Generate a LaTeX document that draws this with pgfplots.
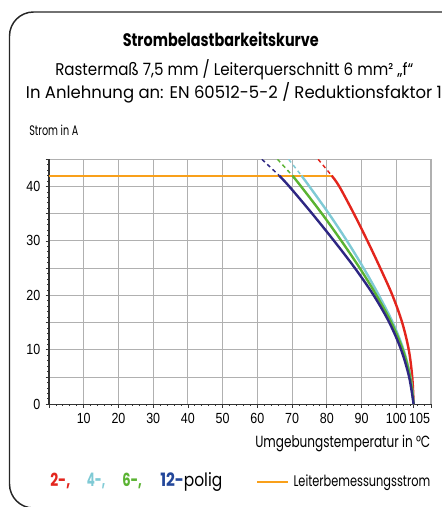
\documentclass[border=0pt]{standalone}
\usepackage{pgfplots}
\pgfplotsset{compat=1.18}
\usepackage{graphicx}
\usepackage{fontspec}
\setmainfont{Poppins}
\newfontfamily\arialf{Liberation Sans}
\newlength\pxu \setlength\pxu{0.75pt}
\definecolor{cRed}{HTML}{E3251D}
\definecolor{cCyan}{HTML}{7FCAD5}
\definecolor{cGreen}{HTML}{5AB332}
\definecolor{cNavy}{HTML}{2E2783}
\definecolor{cNavyL}{HTML}{23479A}
\definecolor{cOrange}{HTML}{F9A01A}
\definecolor{cGrid}{HTML}{B0B0B0}
\newcommand{\tl}[1]{\scalebox{0.85}[1]{#1}}
\newcommand{\rb}[3]{\resizebox{#1\pxu}{#2\pxu}{#3}}
\begin{document}
\begin{tikzpicture}[x=0.75pt,y=-0.75pt]
\useasboundingbox (0,0) rectangle (442,507);
\draw[line width=1.1pt, color=black!85, rounded corners=18pt] (9.5,12) rectangle (470,508);
% titles
\node[anchor=base west, inner sep=0] at (122.5,46.7) {\rb{196}{14.5}{\bfseries Strombelastbarkeitskurve}};
\node[anchor=base west, inner sep=0] at (55,75) {\rb{358}{16}{Rastermaß 7,5 mm / Leiterquerschnitt 6 mm² „f“}};
\node[anchor=base west, inner sep=0] at (25.7,98.7) {\rb{416}{16}{In Anlehnung an: EN 60512-5-2 / Reduktionsfaktor 1}};
\node[anchor=base west, inner sep=0] at (29,135) {\rb{49}{10.5}{Strom in A}};
\node[anchor=base west, inner sep=0] at (255,447.3) {\rb{175}{12.3}{Umgebungstemperatur in °C}};
% legend
\node[anchor=base west, inner sep=0] at (50,486.7) {\rb{20}{13.4}{\bfseries\color{cRed}2-,}};
\node[anchor=base west, inner sep=0] at (86.7,486.7) {\rb{18.3}{13.4}{\bfseries\color{cCyan}4-,}};
\node[anchor=base west, inner sep=0] at (122,486.7) {\rb{19.7}{13.4}{\bfseries\color{cGreen}6-,}};
\node[anchor=base west, inner sep=0] at (160,486.7) {\rb{62}{14}{{\bfseries\color{cNavyL}12-}polig}};
\draw[cOrange, line width=1.8pt] (257,481.7) -- (288,481.7);
\node[anchor=base west, inner sep=0] at (293.3,486.7) {\rb{136.7}{11.7}{Leiterbemessungsstrom}};
\begin{axis}[
  at={(36.75pt,-303.2pt)}, anchor=south west,
  scale only axis, width=286.5pt, height=183.75pt,
  xmin=0, xmax=110, ymin=0, ymax=45,
  axis x line*=bottom, axis y line*=left,
  axis line style={black!80, line width=0.8pt, -},
  xtick={0,10,...,110},
  xticklabels={,\tl{10},\tl{20},\tl{30},\tl{40},\tl{50},\tl{60},\tl{70},\tl{80},\tl{90},\tl{100},},
  extra x ticks={105},
  extra x tick labels={\tl{105}},
  extra x tick style={grid=none, xticklabel style={xshift=4.5pt}},
  ytick={0,5,...,45},
  yticklabels={\tl{0},,\tl{10},,\tl{20},,\tl{30},,\tl{40},},
  minor x tick num=4, minor y tick num=4,
  tick align=outside,
  major tick length=2.5pt, minor tick length=1.3pt,
  tick style={black!80, line width=0.6pt},
  minor tick style={black!80, line width=0.6pt},
  grid=major,
  major grid style={cGrid, line width=0.8pt},
  ticklabel style={font=\arialf\fontsize{11}{12}\selectfont},
  xticklabel style={yshift=-1pt},
  yticklabel style={xshift=-0.5pt},
]
\addplot[cOrange, line width=1.5pt] coordinates {(0,42) (81.4,42)};
% dashed extensions
\addplot[cRed, line width=1.1pt, dash pattern=on 3pt off 2.5pt] coordinates {(77.5,45) (81.4,42)};
\addplot[cCyan, line width=1.1pt, dash pattern=on 3pt off 2.5pt] coordinates {(69.0,45) (72.7,42)};
\addplot[cGreen, line width=1.1pt, dash pattern=on 3pt off 2.5pt] coordinates {(65.8,45) (70.1,42)};
\addplot[cNavy, line width=1.1pt, dash pattern=on 3pt off 2.5pt] coordinates {(61.3,45) (66.3,42)};
% solid curves
\addplot[cRed, line width=1.8pt, smooth, tension=0.55] coordinates {(81.4,42) (83.6,40) (87.8,35) (91.7,30) (95.4,25) (98.9,20) (101.7,15) (103.6,10) (104.6,5) (105,0)};
\addplot[cCyan, line width=1.8pt, smooth, tension=0.55] coordinates {(72.7,42) (75.0,40) (80.6,35) (85.8,30) (90.6,25) (95.0,20) (99.0,15) (102.1,10) (104.1,5) (105,0)};
\addplot[cGreen, line width=1.8pt, smooth, tension=0.55] coordinates {(70.1,42) (72.6,40) (78.6,35) (84.2,30) (89.5,25) (94.3,20) (98.6,15) (101.9,10) (104.0,5) (105,0)};
\addplot[cNavy, line width=1.8pt, smooth, tension=0.55] coordinates {(66.3,42) (69.2,40) (75.8,35) (82.1,30) (88.1,25) (93.5,20) (98.0,15) (101.4,10) (103.7,5) (105,0)};
\end{axis}
\end{tikzpicture}
\end{document}
